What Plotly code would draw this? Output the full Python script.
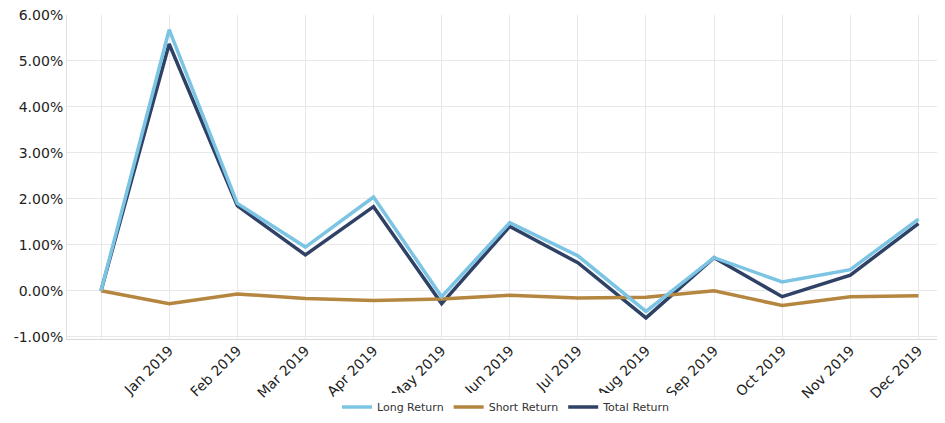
import plotly.graph_objects as go

months = ["", "Jan 2019", "Feb 2019", "Mar 2019", "Apr 2019", "May 2019", "Jun 2019",
          "Jul 2019", "Aug 2019", "Sep 2019", "Oct 2019", "Nov 2019", "Dec 2019"]
long_return = [0.0, 5.68, 1.90, 0.95, 2.04, -0.13, 1.48, 0.76, -0.45, 0.72, 0.19, 0.46, 1.56]
short_return = [0.0, -0.28, -0.07, -0.17, -0.21, -0.18, -0.10, -0.16, -0.14, 0.0, -0.32, -0.13, -0.11]
total_return = [0.0, 5.37, 1.85, 0.78, 1.83, -0.28, 1.40, 0.61, -0.59, 0.72, -0.13, 0.34, 1.46]
y_ticks = [-1, 0, 1, 2, 3, 4, 5, 6]

x = list(range(len(months)))
font = "DejaVu Sans, Lucida Grande, sans-serif"

fig = go.Figure()
fig.add_trace(go.Scatter(x=x, y=total_return, name="Total Return", mode="lines",
                         line=dict(color="#2f4266", width=3.5), legendrank=3))
fig.add_trace(go.Scatter(x=x, y=short_return, name="Short Return", mode="lines",
                         line=dict(color="#b5863f", width=3.5), legendrank=2))
fig.add_trace(go.Scatter(x=x, y=long_return, name="Long Return", mode="lines",
                         line=dict(color="#7cc4e4", width=3.5), legendrank=1))

# page body has an 8px margin, so the figure is sized/offset to compensate
fig.update_layout(
    width=937, height=415,
    margin=dict(l=59, r=0, t=7, b=83.5),
    paper_bgcolor="white", plot_bgcolor="white",
    font=dict(family=font, color="#222222"),
    showlegend=True,
    legend=dict(orientation="h", x=0.5, xanchor="center", y=-0.255, yanchor="bottom",
                font=dict(size=11, color="#333333"), itemwidth=30,
                tracegroupgap=0),
    hovermode=False,
)
fig.update_xaxes(
    range=[-0.5, 12.39], tickmode="array", tickvals=x, ticktext=months,
    tickangle=-45, tickfont=dict(size=14, color="#222222"), automargin=False,
    ticklabeloverflow="allow", ticklabelstandoff=-3,
    showgrid=True, gridcolor="#e8e8e8", gridwidth=1,
    showline=True, linecolor="#d8d8d8", linewidth=1, zeroline=False, ticks="",
)
fig.update_yaxes(
    range=[-1.05, 6.0], tickmode="array", tickvals=y_ticks,
    ticktext=[f"{v:.2f}%" for v in y_ticks],
    tickfont=dict(size=14, color="#222222"), automargin=False,
    ticklabeloverflow="allow",
    showgrid=True, gridcolor="#e8e8e8", gridwidth=1,
    showline=True, linecolor="#e0e0e0", linewidth=1, zeroline=False, ticks="",
)

fig.write_html("out.html")
